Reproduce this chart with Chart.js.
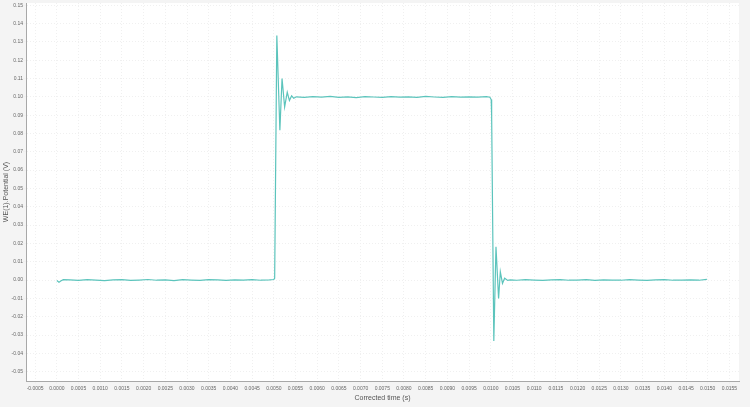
<!DOCTYPE html>
<html>
<head>
<meta charset="utf-8">
<script src="https://cdn.jsdelivr.net/npm/chart.js@4"></script>
<style>
  html, body { margin: 0; padding: 0; background: #f4f4f4; }
  #wrap { width: 750px; height: 407px; }
</style>
</head>
<body>
<div id="wrap"><canvas id="chart" width="750" height="407"></canvas></div>
<script>
// time (s) and WE(1).Potential (V)
const times = [
  0.00000, 0.00005, 0.00010, 0.00015, 0.00030, 0.00050, 0.00070, 0.00090, 0.00110, 0.00130,
  0.00150, 0.00170, 0.00190, 0.00210, 0.00230, 0.00250, 0.00270, 0.00290, 0.00310, 0.00330,
  0.00350, 0.00370, 0.00390, 0.00410, 0.00430, 0.00450, 0.00470, 0.00490, 0.00500,
  0.00502, 0.00507, 0.00514, 0.00519, 0.00525, 0.00531, 0.00536, 0.00541, 0.00546, 0.00552,
  0.00570, 0.00590, 0.00610, 0.00630, 0.00650, 0.00670, 0.00690, 0.00710, 0.00730, 0.00750,
  0.00770, 0.00790, 0.00810, 0.00830, 0.00850, 0.00870, 0.00890, 0.00910, 0.00930, 0.00950,
  0.00970, 0.00990, 0.00998, 0.01001, 0.01002,
  0.01007, 0.01012, 0.01018, 0.01022, 0.01027, 0.01032, 0.01039, 0.01045,
  0.01060, 0.01080, 0.01100, 0.01120, 0.01140, 0.01160, 0.01180, 0.01200, 0.01220, 0.01240,
  0.01260, 0.01280, 0.01300, 0.01320, 0.01340, 0.01360, 0.01380, 0.01400, 0.01420, 0.01440,
  0.01460, 0.01480, 0.01498
];
const potential = [
  -0.0003, -0.0012, -0.0004, 0.0002, 0.0001, -0.0002, 0.0002, 0.0000, -0.0003, 0.0001,
  0.0002, -0.0002, 0.0000, 0.0003, -0.0001, 0.0001, -0.0003, 0.0002, 0.0000, -0.0002,
  0.0002, 0.0001, -0.0002, 0.0001, 0.0000, 0.0002, -0.0001, 0.0001, 0.0003,
  0.0010, 0.1335, 0.0818, 0.1100, 0.0945, 0.1025, 0.0980, 0.1005, 0.0992, 0.1000,
  0.0997, 0.1001, 0.0998, 0.1002, 0.0997, 0.1000, 0.0996, 0.1001, 0.0999, 0.0997,
  0.1001, 0.0998, 0.1000, 0.0997, 0.1002, 0.0999, 0.0997, 0.1001, 0.0998, 0.1000,
  0.0998, 0.1001, 0.0998, 0.0985, 0.0900,
  -0.0333, 0.0182, -0.0100, 0.0045, -0.0018, 0.0010, -0.0002, 0.0001,
  -0.0001, 0.0002, 0.0000, -0.0002, 0.0001, 0.0002, -0.0001, 0.0000, 0.0002, -0.0002,
  0.0001, 0.0000, -0.0001, 0.0002, 0.0000, -0.0002, 0.0001, 0.0002, -0.0001, 0.0000,
  0.0001, -0.0001, 0.0004
];

const xTicks = [
  -0.0005, 0.0000, 0.0005, 0.0010, 0.0015, 0.0020, 0.0025, 0.0030, 0.0035, 0.0040, 0.0045,
  0.0050, 0.0055, 0.0060, 0.0065, 0.0070, 0.0075, 0.0080, 0.0085, 0.0090, 0.0095, 0.0100,
  0.0105, 0.0110, 0.0115, 0.0120, 0.0125, 0.0130, 0.0135, 0.0140, 0.0145, 0.0150, 0.0155
];
const yTicks = [
  -0.05, -0.04, -0.03, -0.02, -0.01, 0.00, 0.01, 0.02, 0.03, 0.04, 0.05,
  0.06, 0.07, 0.08, 0.09, 0.10, 0.11, 0.12, 0.13, 0.14, 0.15
];

const points = times.map((t, i) => ({ x: t, y: potential[i] }));

const plotBg = {
  id: "plotBg",
  beforeDraw(chart) {
    const { ctx, chartArea: a } = chart;
    ctx.save();
    ctx.fillStyle = "#f4f4f4";
    ctx.fillRect(0, 0, chart.width, chart.height);
    ctx.fillStyle = "#ffffff";
    ctx.fillRect(a.left, a.top, a.right - a.left, a.bottom - a.top);
    ctx.restore();
  }
};

const tickFont = { family: "Liberation Sans, Arial, sans-serif", size: 5 };
const titleFont = { family: "Liberation Sans, Arial, sans-serif", size: 7 };

new Chart(document.getElementById("chart").getContext("2d"), {
  type: "scatter",
  data: {
    datasets: [{
      data: points,
      showLine: true,
      borderColor: "#5cc4bc",
      borderWidth: 1.2,
      pointRadius: 0,
      tension: 0
    }]
  },
  options: {
    responsive: false,
    animation: false,
    layout: { padding: { left: 2, right: 11, top: 3, bottom: 0 } },
    plugins: { legend: { display: false }, tooltip: { enabled: false } },
    scales: {
      x: {
        type: "linear",
        min: -0.00071,
        max: 0.01572,
        afterBuildTicks: (s) => { s.ticks = xTicks.map(v => ({ value: v })); },
        afterFit: (s) => { s.height = 26; },
        ticks: {
          autoSkip: false, maxRotation: 0, minRotation: 0, padding: 2,
          color: "#666", font: tickFont,
          callback: (v) => Number(v).toFixed(4)
        },
        grid: { color: "#f0f0f0", lineWidth: 1, tickLength: 3 },
        border: { display: true, color: "#a8a8a8", dash: [1, 2], width: 1 },
        title: {
          display: true, text: "Corrected time (s)", color: "#555",
          font: titleFont, padding: { top: 0, bottom: 5 }
        }
      },
      y: {
        type: "linear",
        min: -0.0551,
        max: 0.1512,
        afterBuildTicks: (s) => { s.ticks = yTicks.map(v => ({ value: v })); },
        afterFit: (s) => { s.width = 24; },
        ticks: {
          autoSkip: false, padding: 0,
          color: "#666", font: tickFont,
          callback: (v) => Number(v).toFixed(2)
        },
        grid: { color: "#f0f0f0", lineWidth: 1, tickLength: 3 },
        border: { display: true, color: "#a8a8a8", dash: [1, 2], width: 1 },
        title: {
          display: true, text: "WE(1).Potential (V)", color: "#555",
          font: titleFont, padding: 0
        }
      }
    }
  },
  plugins: [plotBg]
});
</script>
</body>
</html>
